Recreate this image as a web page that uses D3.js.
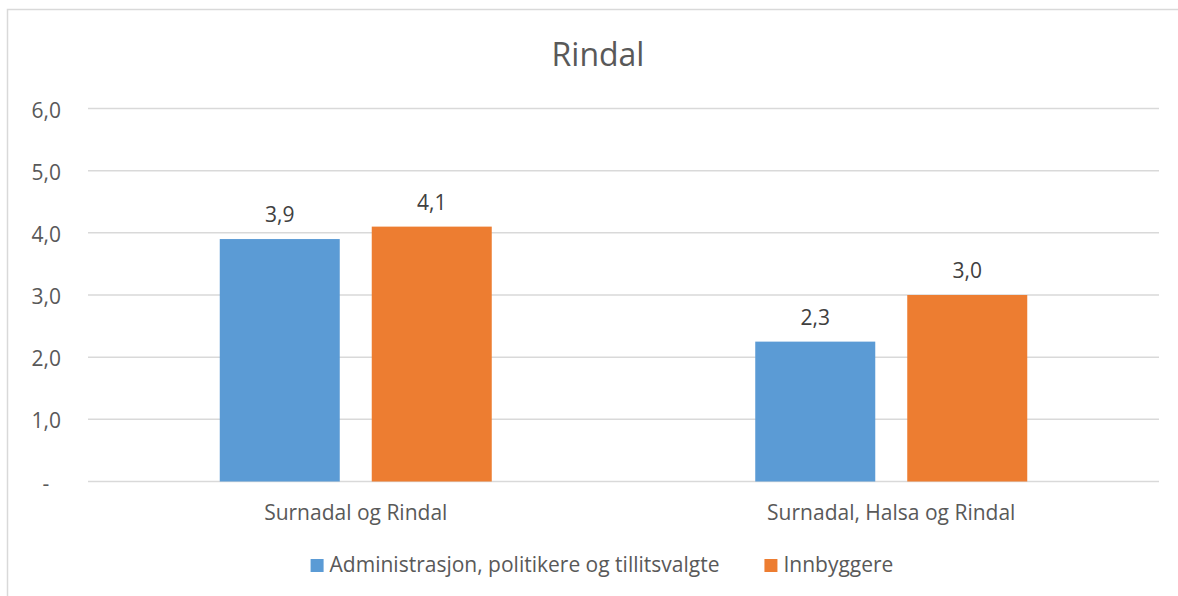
<!DOCTYPE html>
<html><head><meta charset="utf-8">
<script src="https://cdn.jsdelivr.net/npm/d3@7"></script>
<style>
  body { margin: 0; background: #fff; }
  text { font-family: "Open Sans", "Noto Sans", sans-serif; }
</style>
</head><body>
<svg id="chart" width="1178" height="596"></svg>
<script>
// Chart data
const title = "Rindal";
const categories = ["Surnadal og Rindal", "Surnadal, Halsa og Rindal"];
const seriesNames = ["Administrasjon, politikere og tillitsvalgte", "Innbyggere"];
const adminValues = [3.9, 2.25];
const innbyggerValues = [4.1, 3.0];
const yTicks = [0, 1, 2, 3, 4, 5, 6];
const colors = ["#5B9BD5", "#ED7D31"];

const seriesValues = [adminValues, innbyggerValues];
const rows = categories.map((c, i) => ({
  category: c,
  values: seriesNames.map((s, j) => ({ series: s, idx: j, value: seriesValues[j][i] }))
}));

const svg = d3.select("#chart");
const W = 1178, H = 596;
const plot = { left: 88, right: 1159, top: 108.5, bottom: 481.5 };

// Chart area frame
svg.append("rect")
  .attr("x", 7.5).attr("y", 9.5)
  .attr("width", W + 10).attr("height", H + 10)
  .attr("fill", "#fff").attr("stroke", "#D9D9D9").attr("stroke-width", 1.5);

const fmt = v => d3.format(".1f")(v).replace(".", ",");

const y = d3.scaleLinear().domain([0, 6]).range([plot.bottom, plot.top]);
const x0 = d3.scaleBand().domain(categories).range([plot.left, plot.right]).padding(0);
const groupWidth = 272;
const x1 = d3.scaleBand().domain(seriesNames)
  .range([-groupWidth / 2, groupWidth / 2]).paddingInner(0.2105).paddingOuter(0);

// Gridlines
svg.append("g").selectAll("line").data(yTicks).join("line")
  .attr("x1", plot.left).attr("x2", plot.right)
  .attr("y1", d => y(d)).attr("y2", d => y(d))
  .attr("stroke", "#D9D9D9").attr("stroke-width", 1.5);

// Y tick labels
svg.append("g").selectAll("text").data(yTicks).join("text")
  .attr("x", d => d === 0 ? 46 : 61)
  .attr("y", d => y(d) + 9)
  .attr("text-anchor", d => d === 0 ? "middle" : "end")
  .attr("fill", "#595959")
  .style("font-size", "21px")
  .text(d => d === 0 ? "-" : fmt(d));

// Bars
const groups = svg.append("g").selectAll("g").data(rows).join("g")
  .attr("transform", d => `translate(${x0(d.category) + x0.bandwidth() / 2},0)`);

groups.selectAll("rect").data(d => d.values).join("rect")
  .attr("x", d => x1(d.series))
  .attr("width", x1.bandwidth())
  .attr("y", d => y(d.value))
  .attr("height", d => y(0) - y(d.value))
  .attr("fill", d => colors[d.idx]);

// Value labels
groups.selectAll("text").data(d => d.values).join("text")
  .attr("x", d => x1(d.series) + x1.bandwidth() / 2)
  .attr("y", d => y(d.value) - 17)
  .attr("text-anchor", "middle")
  .attr("fill", "#404040")
  .style("font-size", "21px")
  .text(d => fmt(d.value));

// Category labels
svg.append("g").selectAll("text").data(categories).join("text")
  .attr("x", d => x0(d) + x0.bandwidth() / 2)
  .attr("y", 520)
  .attr("text-anchor", "middle")
  .attr("fill", "#595959")
  .style("font-size", "21px")
  .text(d => d);

// Title
svg.append("text")
  .attr("x", 598).attr("y", 66)
  .attr("text-anchor", "middle")
  .attr("fill", "#595959")
  .style("font-size", "32px")
  .text(title);

// Legend
const legend = svg.append("g");
const sw = 13, swGap = 6, itemGap = 45;
let cursor = 0;
const items = seriesNames.map((s, i) => {
  const g = legend.append("g");
  g.append("rect").attr("x", 0).attr("y", -13).attr("width", sw).attr("height", sw).attr("fill", colors[i]);
  const t = g.append("text").attr("x", sw + swGap).attr("y", 0)
    .attr("fill", "#595959").style("font-size", "21px").text(s);
  const w = sw + swGap + t.node().getComputedTextLength();
  g.attr("transform", `translate(${cursor},572)`);
  cursor += w + itemGap;
  return g;
});
const legendWidth = cursor - itemGap;
legend.attr("transform", `translate(${602 - legendWidth / 2},0)`);
</script></body></html>
